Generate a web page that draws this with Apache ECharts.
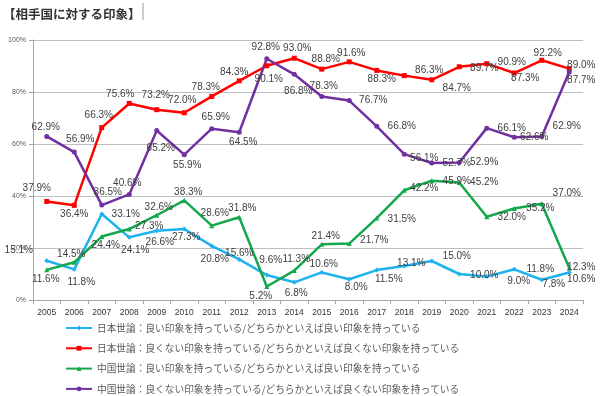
<!DOCTYPE html>
<html>
<head>
<meta charset="utf-8">
<script src="https://cdn.jsdelivr.net/npm/echarts@6/dist/echarts.min.js"></script>
<style>
  html, body { margin: 0; padding: 0; background: #fff; }
  #chart { width: 600px; height: 396px; }
</style>
</head>
<body>
<div id="chart"></div>
<script>
// --- データ ---
const years = ['2005','2006','2007','2008','2009','2010','2011','2012','2013','2014',
               '2015','2016','2017','2018','2019','2020','2021','2022','2023','2024'];

const jpGood = [15.1, 11.8, 33.1, 24.1, 26.6, 27.3, 20.8, 15.6, 9.6, 6.8,
                10.6, 8.0, 11.5, 13.1, 15.0, 10.0, 9.0, 11.8, 7.8, 10.6];
const jpBad  = [37.9, 36.4, 66.3, 75.6, 73.2, 72.0, 78.3, 84.3, 90.1, 93.0,
                88.8, 91.6, 88.3, 86.3, 84.7, 89.7, 90.9, 87.3, 92.2, 89.0];
const cnGood = [11.6, 14.5, 24.4, 27.3, 32.6, 38.3, 28.6, 31.8, 5.2, 11.3,
                21.4, 21.7, 31.5, 42.2, 45.9, 45.2, 32.0, 35.2, 37.0, 12.3];
const cnBad  = [62.9, 56.9, 36.5, 40.6, 65.2, 55.9, 65.9, 64.5, 92.8, 86.8,
                78.3, 76.7, 66.8, 56.1, 52.7, 52.9, 66.1, 62.6, 62.9, 87.7];

const seriesNames = [
  '日本世論：良い印象を持っている/どちらかといえば良い印象を持っている',
  '日本世論：良くない印象を持っている/どちらかといえば良くない印象を持っている',
  '中国世論：良い印象を持っている/どちらかといえば良い印象を持っている',
  '中国世論：良くない印象を持っている/どちらかといえば良くない印象を持っている'
];

// --- ラベル位置 (点からのずらし量, 見た目用) ---
const labelShift = {
  jpGood: [[-28,-10],[7,13],[24,0],[6,13],[3,11],[2,8],[3,13],[0,-6],[4,-15],[2,11],
           [2,-8],[7,8],[12,9],[7,-3],[25,-5],[25,1],[32,5],[26,0],[12,5],[12,7]],
  jpBad:  [[-10,-13],[0,9],[-3,-12],[-9,-9],[-1,-14],[-2,-13],[-6,-9],[-5,-9],[2,14],[3,-10],
           [4,-10],[2,-9],[5,9],[25,-5],[25,8],[25,1],[25,-1],[11,5],[6,-7],[12,-3]],
  cnGood: [[-1,9],[-3,-8],[4,9],[20,-3],[2,-8],[4,-8],[3,-12],[3,-9],[-6,10],[2,-11],
           [4,-8],[25,-3],[25,1],[20,-2],[25,1],[25,0],[25,0],[26,0],[25,-11],[12,-1]],
  cnBad:  [[-1,-9],[6,-13],[6,-13],[-2,-11],[4,18],[3,11],[4,-11],[4,10],[-1,-11],[4,17],
           [2,-10],[24,0],[25,0],[20,4],[25,0],[25,0],[25,0],[20,0],[25,-10],[12,8]]
};

const labelFont = '"Liberation Sans Narrow", "Liberation Sans", Arial, sans-serif';
const jpFont = '"Noto Sans CJK JP", sans-serif';

function makeSeries(name, values, shifts, color, symbol, symbolSize) {
  return {
    name: name,
    type: 'line',
    data: values.map((v, i) => ({ value: v, label: { offset: shifts[i] } })),
    symbol: symbol,
    symbolSize: symbolSize,
    showAllSymbol: true,
    lineStyle: { color: color, width: 2.5 },
    itemStyle: { color: color },
    label: {
      show: true,
      position: 'inside',
      formatter: p => p.value.toFixed(1) + '%',
      color: '#404040',
      fontSize: 10,
      fontFamily: labelFont
    },
    emphasis: { disabled: true },
    animation: false
  };
}

const chart = echarts.init(document.getElementById('chart'), null, { renderer: 'canvas' });

chart.setOption({
  backgroundColor: '#ffffff',
  animation: false,
  title: {
    text: '【相手国に対する印象】',
    left: -2,
    top: 3,
    textStyle: { fontSize: 12.5, fontWeight: 'bold', color: '#333333', fontFamily: jpFont }
  },
  graphic: [{
    type: 'line',
    shape: { x1: 143, y1: 3, x2: 143, y2: 20 },
    style: { stroke: '#9a9a9a', lineWidth: 1 }
  }],
  grid: { left: 33, right: 17, top: 40, bottom: 96 },
  legend: {
    orient: 'vertical',
    left: 65,
    top: 322,
    padding: 0,
    itemWidth: 26,
    itemHeight: 6,
    itemGap: 8.3,
    textStyle: { fontSize: 9.7, lineHeight: 12, color: '#595959', fontFamily: jpFont },
    data: seriesNames
  },
  xAxis: {
    type: 'category',
    data: years,
    boundaryGap: true,
    axisLine: { lineStyle: { color: '#a6a6a6', width: 1 } },
    axisTick: { show: true, length: 4, lineStyle: { color: '#a6a6a6' } },
    axisLabel: { fontSize: 8.5, color: '#333333', fontFamily: '"Liberation Sans", Arial, sans-serif', margin: 8, interval: 0 },
    splitLine: { show: false }
  },
  yAxis: {
    type: 'value',
    min: 0,
    max: 100,
    interval: 20,
    axisLine: { show: true, lineStyle: { color: '#a6a6a6', width: 1 } },
    axisTick: { show: true, length: 4, lineStyle: { color: '#a6a6a6' } },
    axisLabel: { fontSize: 7, color: '#595959', formatter: '{value}%', fontFamily: '"Liberation Sans", Arial, sans-serif', margin: 7 },
    splitLine: { show: true, lineStyle: { color: '#bfbfbf', width: 1.2 } }
  },
  series: [
    makeSeries(seriesNames[0], jpGood, labelShift.jpGood, '#1eb2ef', 'diamond', 5),
    makeSeries(seriesNames[1], jpBad,  labelShift.jpBad,  '#ff0000', 'rect', 5),
    makeSeries(seriesNames[2], cnGood, labelShift.cnGood, '#13a84b', 'triangle', 5),
    makeSeries(seriesNames[3], cnBad,  labelShift.cnBad,  '#7030a0', 'circle', 5)
  ]
});
</script>
</body>
</html>
